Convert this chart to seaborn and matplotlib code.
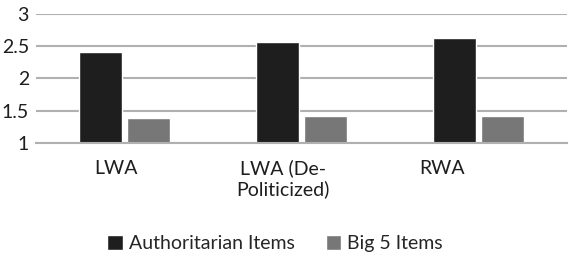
import matplotlib
matplotlib.use("Agg")
import matplotlib.pyplot as plt
import matplotlib.transforms as mtransforms
import seaborn as sns
import pandas as pd

categories = ["LWA", "LWA (De-\nPoliticized)", "RWA"]
series = ["Authoritarian Items", "Big 5 Items"]
authoritarian = [2.41, 2.57, 2.63]
big5 = [1.39, 1.41, 1.42]
colors = ["#1e1e1e", "#777777"]

df = pd.DataFrame({
    "group": categories * 2,
    "series": [series[0]] * 3 + [series[1]] * 3,
    "value": authoritarian + big5,
})

sns.set_style("white")
plt.rcParams["font.family"] = ["Lato", "DejaVu Sans"]

fig = plt.figure(figsize=(5.69, 2.58), dpi=100)
ax = fig.add_axes([0.063, 0.446, 0.933, 0.5])

# bars drawn from 0, the axis floor at 1 clips them like the original
sns.barplot(data=df, x="group", y="value", hue="series", palette=colors,
            width=0.54, gap=0.1, saturation=1, ax=ax)

ax.set_ylim(1, 3)
ax.set_yticks([1, 1.5, 2, 2.5, 3])
ax.set_yticklabels(["1", "1.5", "2", "2.5", "3"])
ax.yaxis.grid(True, color="#b0b0b0", linewidth=1.5)
ax.set_axisbelow(True)
for s in ["top", "right", "left"]:
    ax.spines[s].set_visible(False)
ax.spines["bottom"].set_color("#b0b0b0")
ax.spines["bottom"].set_linewidth(1.5)
ax.tick_params(axis="both", length=0, labelsize=14, colors="#1e1e1e")
ax.tick_params(axis="y", pad=5)
ax.tick_params(axis="x", pad=12)
ax.set_xlabel("")
ax.set_ylabel("")

# category labels in the original sit a bit left of their bars
for lab, dx in zip(ax.get_xticklabels(), [-0.08, -0.18, -0.36]):
    lab.set_transform(lab.get_transform() +
                      mtransforms.ScaledTranslation(dx, 0, fig.dpi_scale_trans))

ax.legend_.remove()
handles, labels = ax.get_legend_handles_labels()
fig.legend(handles, labels, loc="center", bbox_to_anchor=(0.483, 0.057), ncol=2,
           frameon=False, fontsize=14, handlelength=0.8, handleheight=0.8,
           handletextpad=0.3, columnspacing=1.6)

fig.savefig("out.png", dpi=100)
